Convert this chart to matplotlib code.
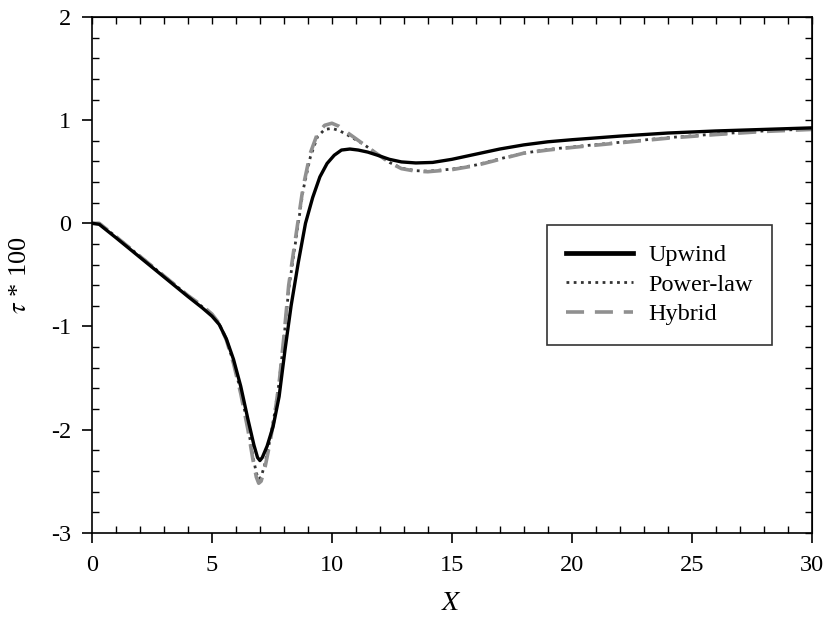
import numpy as np
import matplotlib.pyplot as plt
from matplotlib.ticker import MultipleLocator, NullFormatter

plt.rcParams['font.family'] = 'Liberation Serif'
plt.rcParams['mathtext.fontset'] = 'stix'
plt.rcParams['axes.unicode_minus'] = False

x_up = [0, 0.3, 1, 2, 3, 4, 4.6, 5.0, 5.3, 5.6, 5.9, 6.2, 6.5, 6.75, 6.9, 7.0,
        7.1, 7.3, 7.55, 7.8, 8.05, 8.3, 8.6, 8.9, 9.2, 9.5, 9.8, 10.1, 10.4,
        10.75, 11.1, 11.5, 11.9, 12.4, 12.9, 13.5, 14.2, 15, 16, 17, 18, 19,
        20, 22, 24, 26, 28, 30]
upwind = [0, -0.01, -0.14, -0.33, -0.52, -0.71, -0.82, -0.90, -0.98, -1.12,
          -1.32, -1.58, -1.90, -2.15, -2.27, -2.30, -2.27, -2.16, -1.97, -1.68,
          -1.22, -0.80, -0.38, 0.0, 0.25, 0.45, 0.58, 0.66, 0.71, 0.72, 0.71,
          0.69, 0.66, 0.62, 0.595, 0.585, 0.59, 0.62, 0.67, 0.72, 0.76, 0.79,
          0.81, 0.845, 0.875, 0.895, 0.91, 0.925]

x_hy = [0, 0.3, 1, 2, 3, 4, 4.6, 5.0, 5.3, 5.6, 5.9, 6.2, 6.5, 6.7, 6.85, 6.95,
        7.05, 7.2, 7.4, 7.6, 7.8, 8.0, 8.2, 8.5, 8.8, 9.1, 9.4, 9.7, 10.0,
        10.3, 10.7, 11.3, 11.9, 12.4, 12.9, 13.5, 14.0, 15, 16, 17, 18, 19,
        20, 22, 24, 26, 28, 30]
hybrid = [0, 0.0, -0.13, -0.32, -0.51, -0.70, -0.80, -0.88, -0.97, -1.13,
          -1.36, -1.65, -2.00, -2.28, -2.46, -2.52, -2.50, -2.38, -2.15, -1.88,
          -1.55, -1.10, -0.60, -0.12, 0.35, 0.68, 0.87, 0.95, 0.97, 0.94, 0.87,
          0.77, 0.67, 0.59, 0.53, 0.505, 0.50, 0.52, 0.56, 0.62, 0.68, 0.71,
          0.735, 0.78, 0.825, 0.86, 0.89, 0.91]
powerlaw = [0, 0.0, -0.13, -0.32, -0.51, -0.70, -0.81, -0.89, -0.97, -1.13,
            -1.35, -1.63, -1.97, -2.25, -2.42, -2.48, -2.46, -2.34, -2.12,
            -1.86, -1.54, -1.12, -0.64, -0.16, 0.32, 0.64, 0.84, 0.91, 0.92,
            0.90, 0.85, 0.77, 0.67, 0.59, 0.535, 0.51, 0.505, 0.525, 0.565,
            0.625, 0.68, 0.715, 0.74, 0.785, 0.83, 0.865, 0.895, 0.915]

fig = plt.figure(figsize=(8.29, 6.29), dpi=100)
ax = fig.add_axes([0.111, 0.153, 0.868, 0.820])

ax.plot(x_up, upwind, color='black', lw=2.4, label='Upwind', zorder=3)
ax.plot(x_hy, powerlaw, color='#333333', lw=2.0, ls=(0, (1, 1.6)),
        label='Power-law', zorder=2)
ax.plot(x_hy, hybrid, color='#909090', lw=2.6, ls=(0, (5, 3)),
        label='Hybrid', zorder=2)

ax.set_xlim(0, 30)
ax.set_ylim(-3, 2)
ax.xaxis.set_major_locator(MultipleLocator(5))
ax.xaxis.set_minor_locator(MultipleLocator(1))
ax.yaxis.set_major_locator(MultipleLocator(1))
ax.yaxis.set_minor_locator(MultipleLocator(0.2))
ax.tick_params(which='major', direction='out', length=7, width=1.2,
               labelsize=17.5, top=False, right=False)
ax.tick_params(which='minor', direction='in', length=5, width=1.0,
               top=False, right=False)
ax.tick_params(axis='x', which='major', pad=9)
ax.tick_params(axis='y', which='major', pad=8)

# inward ticks on top and right
sx = ax.secondary_xaxis('top')
sx.xaxis.set_major_locator(MultipleLocator(1))
sx.xaxis.set_major_formatter(NullFormatter())
sx.tick_params(direction='in', length=5, width=1.0)
sy = ax.secondary_yaxis('right')
sy.yaxis.set_major_locator(MultipleLocator(0.2))
sy.yaxis.set_major_formatter(NullFormatter())
sy.tick_params(direction='in', length=5, width=1.0)

for s in ax.spines.values():
    s.set_linewidth(1.2)

ax.set_xlabel('$X$', fontsize=20, labelpad=11)
ax.set_ylabel(r'$\tau$ * 100', fontsize=19, labelpad=14)

leg = ax.legend(loc='upper left', bbox_to_anchor=(0.632, 0.597), fontsize=17.5,
                handlelength=2.75, handletextpad=0.62, frameon=True,
                fancybox=False, edgecolor='black', borderpad=0.8,
                borderaxespad=0, labelspacing=0.31)
leg.get_frame().set_linewidth(1.2)
leg.get_lines()[0].set_linewidth(3.4)

fig.savefig('out.png', dpi=100)
